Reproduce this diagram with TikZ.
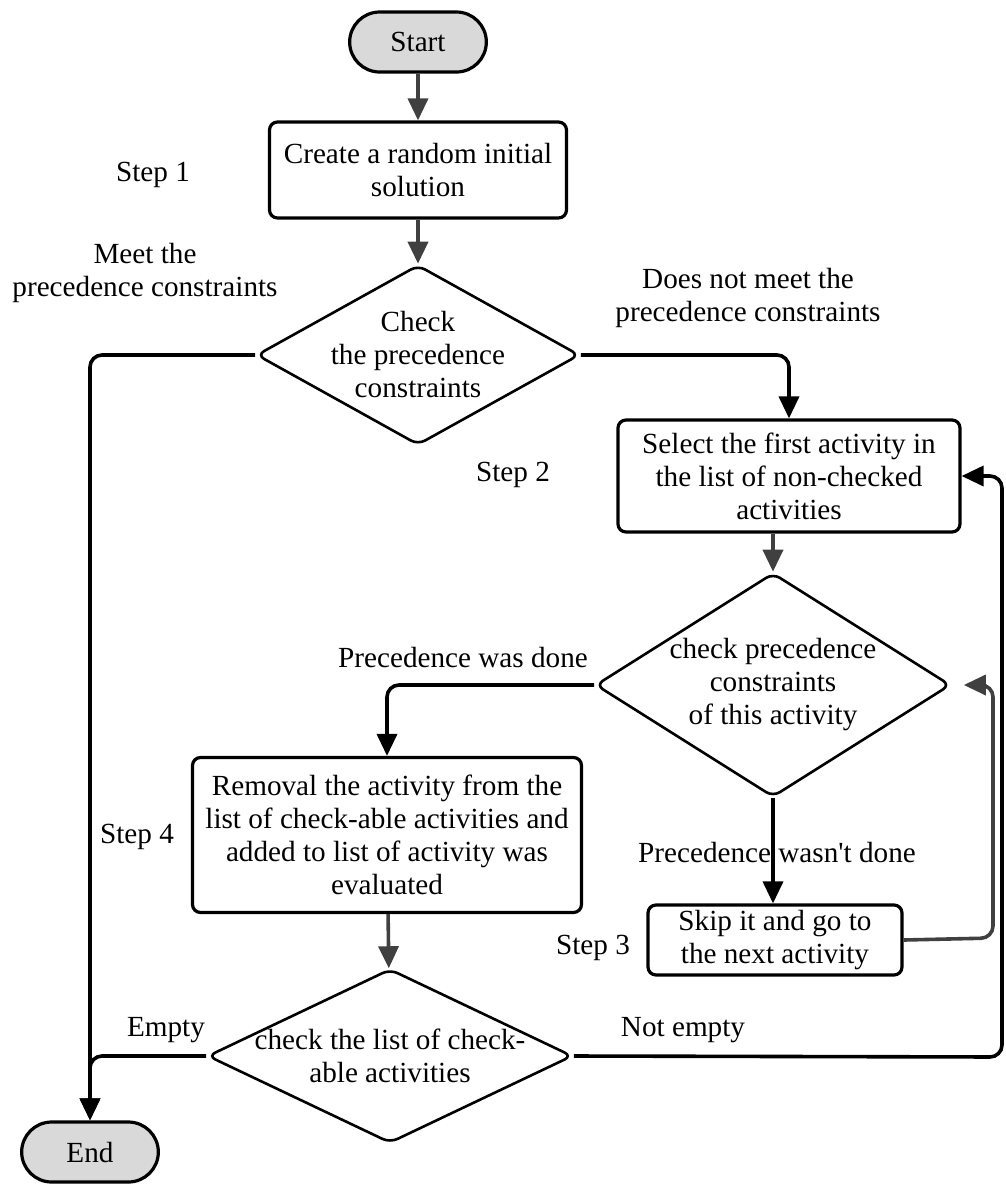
\documentclass[tikz,border=0pt]{standalone}
\usepackage{fontspec}
\setmainfont{Liberation Serif}
\usepackage{xcolor}
\usepackage{tikz}
\usetikzlibrary{shapes,arrows.meta,positioning,decorations.pathmorphing}
\definecolor{termgray}{HTML}{D9D9D9}
\definecolor{flowgray}{HTML}{404040}

\begin{document}
\begin{tikzpicture}[x=0.5pt, y=-0.5pt,
    font=\fontsize{14.6}{16.5}\selectfont,
    every node/.style={align=center},
    term/.style={rounded rectangle, draw, line width=1.6pt, fill=termgray, minimum width=75pt, minimum height=30pt},
    procbox/.style={rectangle, draw, line width=1.6pt, rounded corners=4pt, inner sep=1pt},
    decide/.style={diamond, draw, line width=1.3pt, rounded corners=4pt, inner sep=0pt},
    flow/.style={draw, line width=1.8pt, rounded corners=6pt, -{Triangle[length=11pt,width=10pt]}},
    grayflow/.style={flow, flowgray}]
    \useasboundingbox (0,0) rectangle (1006,1185);

    % shapes
    \node[term] (start) at (418,42) {Start};
    \node[procbox, minimum width=148.5pt, minimum height=48pt] (create) at (418,170) {Create a random initial\\solution};
    \node[decide, minimum width=161.5pt, minimum height=90pt,
        label={[align=center]center:{Check\\the precedence\\constraints}}] (check1) at (418,355) {};
    \node[procbox, minimum width=171pt, minimum height=56pt] (select) at (789,476) {Select the first activity in\\the list of non-checked\\activities};
    \node[decide, minimum width=177.5pt, minimum height=112pt,
        label={[align=center]center:{check precedence\\constraints\\of this activity}}] (check2) at (773,685) {};
    \node[procbox, minimum width=194.5pt, minimum height=77.5pt] (remove) at (387,835) {Removal the activity from the\\list of check-able activities and\\added to list of activity was\\evaluated};
    \node[procbox, minimum width=127pt, minimum height=35pt] (skip) at (775,940) {Skip it and go to\\the next activity};
    \node[decide, minimum width=182.5pt, minimum height=87pt,
        label={[align=center]center:{check the list of check-\\able activities}}] (listchk) at (390,1056) {};
    \node[term] (end) at (90,1152) {End};

    % labels
    \node (step1) at (153,175) {Step 1};
    \node (step2) at (513,475) {Step 2};
    \node (step3) at (593,948) {Step 3};
    \node (step4) at (137,837) {Step 4};
    \node (meet) at (145,273) {Meet the\\precedence constraints};
    \node (notmeet) at (748,298) {Does not meet the\\precedence constraints};
    \node (done) at (463,658) {Precedence was done};
    \node (notdone) at (777,852) {Precedence wasn\textquotesingle t done};
    \node (empty) at (166,1030) {Empty};
    \node (notempty) at (683,1030) {Not empty};

    \coordinate (skipR) at (993,938);
    \coordinate (loopR) at (1002,1057);

    % connectors
    \draw[grayflow] (start) -- (create);
    \draw[grayflow] (create) -- (check1);
    \draw[flow] (check1.east) -| (select.north);
    \draw[flow] (check1.west) -| (end.north);
    \draw[grayflow] (check2.north |- select.south) -- (check2.north);
    \draw[flow] (check2.west) -| (remove.north);
    \draw[flow] (check2.south) -- (check2.south |- skip.north);
    \draw[grayflow, shorten >=6pt] (skip.east) -- (skipR) |- (check2.east);
    \draw[grayflow] (remove) -- (listchk);
    \draw[flow] (listchk.west) -| (end.north);
    \draw[flow] (listchk.east) -- (loopR) |- (select.east);
\end{tikzpicture}
\end{document}
